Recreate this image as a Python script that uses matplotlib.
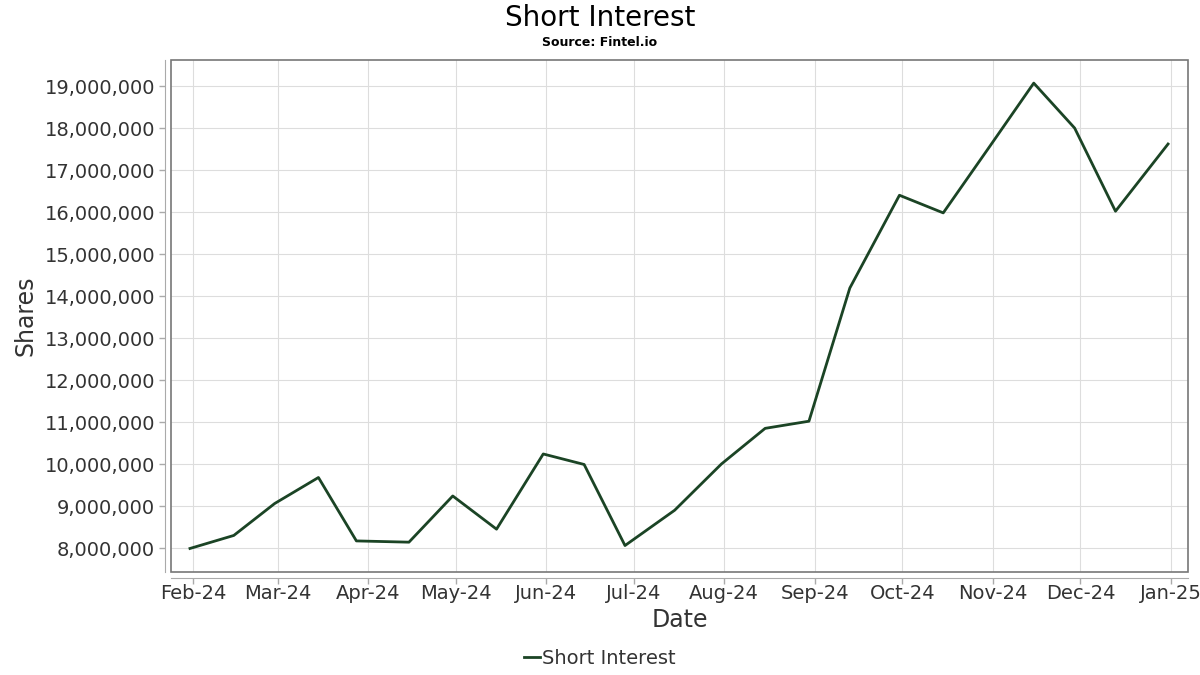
import matplotlib
matplotlib.use("Agg")
import matplotlib.pyplot as plt
import matplotlib.dates as mdates
from matplotlib.patches import Rectangle
from matplotlib.ticker import FuncFormatter
import pandas as pd

plt.rcParams["font.family"] = ["DejaVu Sans"]

# biweekly settlement dates and short interest (shares)
dates = ["2024-01-31", "2024-02-15", "2024-02-29", "2024-03-15", "2024-03-28",
         "2024-04-15", "2024-04-30", "2024-05-15", "2024-05-31", "2024-06-14",
         "2024-06-28", "2024-07-15", "2024-07-31", "2024-08-15", "2024-08-30",
         "2024-09-13", "2024-09-30", "2024-10-15", "2024-10-31", "2024-11-15",
         "2024-11-29", "2024-12-13", "2024-12-31"]
short_interest = [7990000, 8300000, 9060000, 9680000, 8170000,
                  8140000, 9240000, 8450000, 10240000, 9990000,
                  8060000, 8900000, 10000000, 10850000, 11020000,
                  14190000, 16400000, 15980000, 17570000, 19070000,
                  18000000, 16020000, 17620000]
month_ticks = pd.date_range("2024-02-01", "2025-01-01", freq="MS")

TEXT = "#333333"
LINE = "#1b4425"

fig = plt.figure(figsize=(12, 6.75), dpi=100)
ax = fig.add_axes([0.1425, 0.1526, 0.8475, 0.7585])

x = pd.to_datetime(dates)
ax.plot(x, short_interest, color=LINE, lw=2, label="Short Interest")

ax.set_xlim(pd.Timestamp("2024-01-24 12:00"), pd.Timestamp("2025-01-06 20:00"))
ax.set_ylim(7430000, 19620000)
ax.set_yticks(range(8000000, 19000001, 1000000))
ax.yaxis.set_major_formatter(FuncFormatter(lambda v, p: f"{int(v):,}"))
ax.set_xticks(month_ticks)
ax.xaxis.set_major_formatter(mdates.DateFormatter("%b-%y"))

ax.grid(True, color="#dddddd", lw=0.8)
ax.set_axisbelow(True)
for side in ("left", "bottom"):
    ax.spines[side].set_position(("outward", 4))
    ax.spines[side].set_color("#aaaaaa")
for side in ("top", "right"):
    ax.spines[side].set_visible(False)
ax.add_patch(Rectangle((0, 0), 1, 1, transform=ax.transAxes, fill=False,
                       edgecolor="#777777", lw=1.2, clip_on=False, zorder=3))
ax.tick_params(axis="both", colors="#aaaaaa", labelcolor=TEXT, labelsize=14,
               length=4, width=1)
ax.tick_params(axis="x", pad=1)

ax.set_xlabel("Date", fontsize=17, color=TEXT, labelpad=3)
ax.set_ylabel("Shares", fontsize=17, color=TEXT, labelpad=5)

fig.text(0.5, 0.974, "Short Interest", ha="center", va="center", fontsize=20, color="black")
fig.text(0.5, 0.937, "Source: Fintel.io", ha="center", va="center", fontsize=9,
         fontweight="bold", color="black")

fig.legend(loc="center", bbox_to_anchor=(0.5, 0.024), frameon=False, fontsize=14,
           handlelength=0.8, handletextpad=0.15, labelcolor=TEXT)

fig.savefig("out.png", dpi=100)
